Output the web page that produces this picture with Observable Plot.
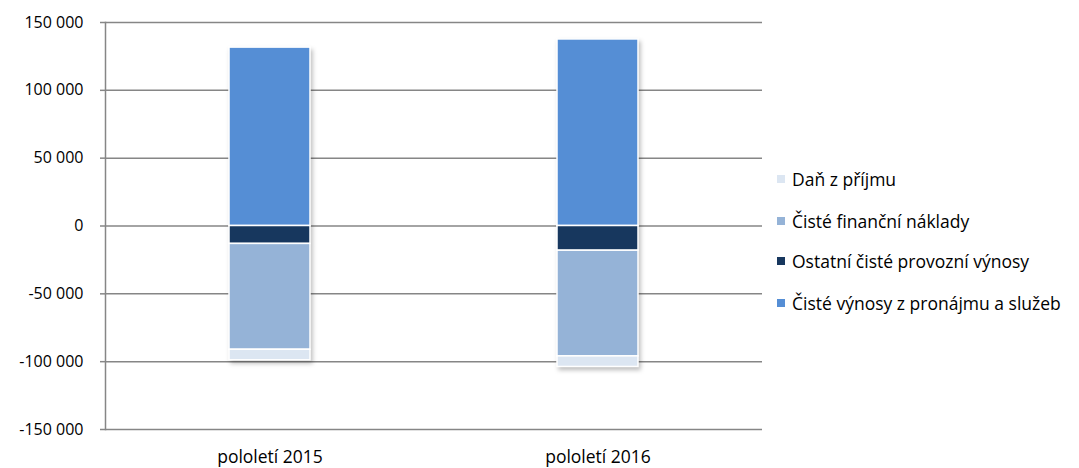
<!DOCTYPE html>
<html>
<head>
<meta charset="utf-8">
<script src="https://cdn.jsdelivr.net/npm/d3@7"></script>
<script src="https://cdn.jsdelivr.net/npm/@observablehq/plot@0.6"></script>
<style>
  body { margin: 0; background: #fff; font-family: "Open Sans", sans-serif; }
  #wrap { position: relative; width: 1079px; height: 468px; }
  #legend { position: absolute; left: 777px; top: 0; font-size: 17.5px; color: #000; }
  .item { position: absolute; white-space: nowrap; display: flex; align-items: center; }
  .sw { width: 8px; height: 8px; margin-right: 7px; flex: none; }
</style>
</head>
<body>
<div id="wrap"><div id="chart"></div><div id="legend"></div></div>
<script>
const periods = ["pololetí 2015", "pololetí 2016"];
const seriesNames = ["Čisté výnosy z pronájmu a služeb", "Ostatní čisté provozní výnosy", "Čisté finanční náklady", "Daň z příjmu"];
const seriesColors = ["#558ED5", "#17375E", "#95B3D7", "#DCE6F2"];
const vynosy = [131500, 137500];
const ostatni = [-13200, -18200];
const financni = [-78000, -77900];
const dan = [-7800, -7800];
const yTicks = [-150000, -100000, -50000, 0, 50000, 100000, 150000];
const legendOrder = ["Daň z příjmu", "Čisté finanční náklady", "Ostatní čisté provozní výnosy", "Čisté výnosy z pronájmu a služeb"];

const seriesValues = [vynosy, ostatni, financni, dan];
const rows = [];
seriesNames.forEach((s, i) => periods.forEach((p, j) => rows.push({period: p, series: s, value: seriesValues[i][j]})));

const fmt = v => (v < 0 ? "-" : "") + d3.format(",")(Math.abs(v)).replace(/,/g, "\u00a0");

const chart = Plot.plot({
  width: 1079,
  height: 468,
  marginLeft: 105,
  marginRight: 317,
  marginTop: 22,
  marginBottom: 39,
  style: {fontFamily: "'Open Sans', sans-serif", fontSize: "16px", color: "#000", background: "#fff"},
  x: {domain: periods, paddingInner: 0.753, paddingOuter: 0.3765, label: null},
  y: {domain: [-150000, 150000], ticks: yTicks, tickFormat: fmt, label: null},
  color: {domain: seriesNames, range: seriesColors},
  marks: [
    Plot.gridY(yTicks, {stroke: "#868686", strokeOpacity: 1, strokeWidth: 1.5}),
    Plot.barY(rows, {x: "period", y: "value", fill: "series", stroke: "#fff", strokeWidth: 1.5, order: seriesNames}),
    Plot.frame({anchor: "left", stroke: "#868686", strokeWidth: 1.5}),
    Plot.axisY({ticks: yTicks, tickFormat: fmt, tickSize: 5, tickPadding: 17, stroke: "#868686", strokeWidth: 1.5, fill: "#000"}),
    Plot.axisX({tickSize: 0, tickPadding: 21, fontSize: 17.5, fill: "#000"})
  ]
});
document.getElementById("chart").appendChild(chart);
d3.select(chart).selectAll("g[aria-label='bar']").style("filter", "drop-shadow(2px 3px 2px rgba(0,0,0,0.25))");

const legend = document.getElementById("legend");
const centers = [179, 221, 261, 303];
legendOrder.forEach((name, i) => {
  const d = document.createElement("div");
  d.className = "item";
  d.style.top = (centers[i] - 11) + "px";
  d.style.height = "22px";
  const sw = document.createElement("span");
  sw.className = "sw";
  sw.style.background = seriesColors[seriesNames.indexOf(name)];
  const t = document.createElement("span");
  t.textContent = name;
  d.appendChild(sw); d.appendChild(t);
  legend.appendChild(d);
});
</script>
</body>
</html>
